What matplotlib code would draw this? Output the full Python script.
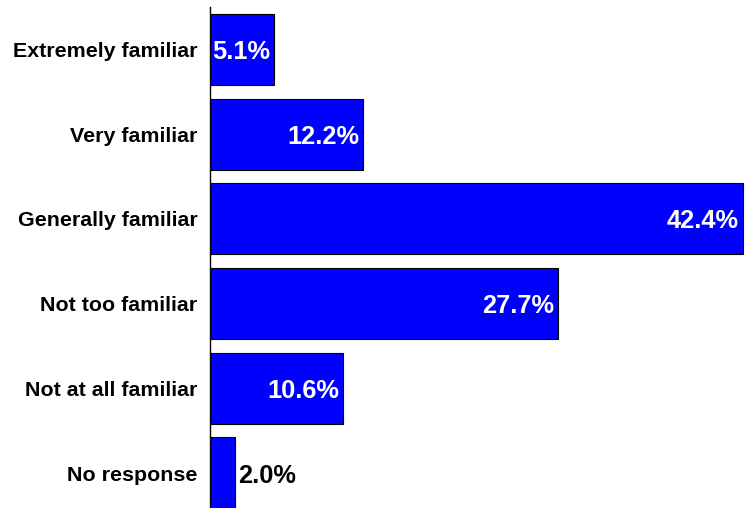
import matplotlib.pyplot as plt
from matplotlib.transforms import offset_copy

categories = ["Extremely familiar", "Very familiar", "Generally familiar",
              "Not too familiar", "Not at all familiar", "No response"]
values = [5.1, 12.2, 42.4, 27.7, 10.6, 2.0]

plt.rcParams['font.family'] = ['Liberation Sans', 'DejaVu Sans']

fig = plt.figure(figsize=(7.48, 5.08), dpi=100)
# axes run a little past the bottom edge, like the original export
ax = fig.add_axes([210 / 748, -0.0145, 538 / 748, 1.0004])

y = list(range(len(categories)))
bars = ax.barh(y, values, height=0.84, color="#0000ff",
               edgecolor="black", linewidth=0.8)

ax.set_ylim(len(categories) - 0.5, -0.5)
ax.set_xlim(0, 42.8)

for s in ["top", "right", "bottom"]:
    ax.spines[s].set_visible(False)
ax.spines["left"].set_linewidth(1.0)
ax.set_xticks([])
ax.set_yticks(y)
ax.set_yticklabels(categories, fontsize=15.4, fontweight="bold")
ax.tick_params(axis="y", length=0, pad=9)

for yi, v in zip(y, values):
    label = f"{v:.1f}%"
    if v < 4:
        tr = offset_copy(ax.transData, fig=fig, x=3, y=0, units="dots")
        ax.text(v, yi, label, transform=tr, ha="left", va="center_baseline",
                fontsize=18.3, fontweight="bold", color="black")
    else:
        tr = offset_copy(ax.transData, fig=fig, x=-4, y=0, units="dots")
        ax.text(v, yi, label, transform=tr, ha="right", va="center_baseline",
                fontsize=18.3, fontweight="bold", color="white")

fig.savefig("out.png", dpi=100)
